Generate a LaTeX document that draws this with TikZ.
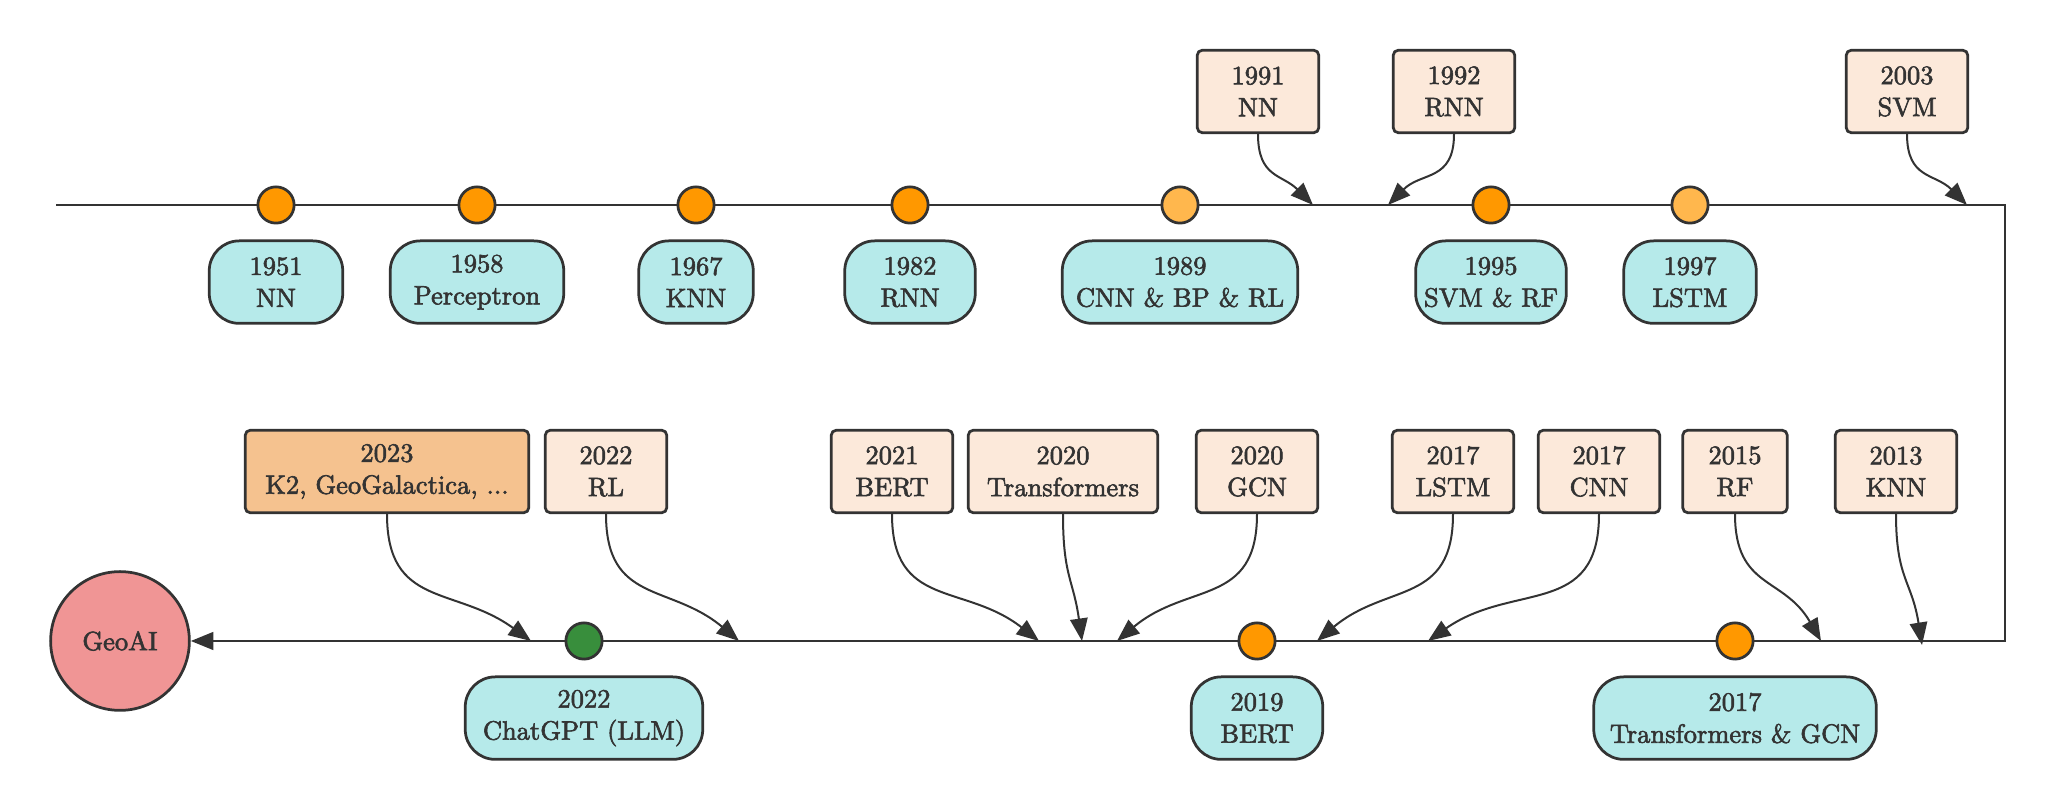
\documentclass[tikz,border=0pt]{standalone}
\usepackage{fontspec}
\usepackage{xcolor}
\usepackage{tikz}
\usetikzlibrary{arrows.meta, positioning, shapes.geometric}
\newfontfamily\tlface[FakeBold=2.2]{lmroman10-regular.otf}
\definecolor{linegray}{HTML}{333333}
\definecolor{eracyan}{HTML}{B6EAEA}
\definecolor{refpeach}{HTML}{FCE9DA}
\definecolor{newpeach}{HTML}{F5C28F}
\definecolor{dotorange}{HTML}{FF9800}
\definecolor{dotlight}{HTML}{FFB74D}
\definecolor{dotgreen}{HTML}{388E3C}
\definecolor{goalred}{HTML}{F09595}
\newcommand{\tlfont}{\tlface\fontsize{10.6}{12.8}\selectfont}
\tikzstyle{eranode}=[rectangle,draw=linegray,fill=eracyan,line width=1.1pt,
  rounded corners=12pt,minimum height=33pt,font=\tlfont,text=linegray,align=center]
\tikzstyle{refnode}=[rectangle,draw=linegray,fill=refpeach,line width=1.1pt,
  rounded corners=2pt,minimum height=33pt,minimum width=48.6pt,
  font=\tlfont,text=linegray,align=center]
\tikzstyle{dotnode}=[circle,draw=linegray,fill=dotorange,line width=1.1pt,
  minimum size=14.5pt,inner sep=0pt]
\tikzstyle{goalnode}=[circle,draw=linegray,fill=goalred,line width=1.1pt,
  minimum size=55.5pt,font=\tlfont,text=linegray]
\tikzstyle{axis}=[line width=1.1pt,color=linegray]
\tikzstyle{arr}=[-{Triangle[length=9pt,width=7pt]},line width=0.8pt,color=linegray,
  looseness=1.25]

\begin{document}
\begin{tikzpicture}[x=0.4pt,y=0.4pt,node distance=6pt]
  \useasboundingbox (0,0) rectangle (2055,-810);
  \node[goalnode] (geoai) at (120,-641) {GeoAI};
  \coordinate (tlstart) at (56,-205);
  \coordinate (tlturn) at (2005,-205);
  \coordinate (tlback) at (2005,-641);
  \draw[axis,-{Triangle[length=9pt,width=7pt]}] (tlstart) -- (tlturn) -- (tlback) -- (geoai);

  \node[dotnode] (d1951) at (276,-205) {};
  \node[dotnode] (d1958) at (477,-205) {};
  \node[dotnode] (d1967) at (696,-205) {};
  \node[dotnode] (d1982) at (910,-205) {};
  \node[dotnode,fill=dotlight] (d1989) at (1180,-205) {};
  \node[dotnode] (d1995) at (1491,-205) {};
  \node[dotnode,fill=dotlight] (d1997) at (1690,-205) {};
  \node[eranode,below=of d1951,minimum width=53.4pt] (e1951) {1951\\NN};
  \node[eranode,below=of d1958,minimum width=69.4pt] (e1958) {1958\\Perceptron};
  \node[eranode,below=of d1967,minimum width=45.8pt] (e1967) {1967\\KNN};
  \node[eranode,below=of d1982,minimum width=52.2pt] (e1982) {1982\\RNN};
  \node[eranode,below=of d1989,minimum width=94.2pt] (e1989) {1989\\CNN \& BP \& RL};
  \node[eranode,below=of d1995,minimum width=57.8pt] (e1995) {1995\\SVM \& RF};
  \node[eranode,below=of d1997,minimum width=53pt] (e1997) {1997\\LSTM};

  \node[refnode] (p1991) at (1258,-91.5) {1991\\NN};
  \node[refnode] (p1992) at (1454,-91.5) {1992\\RNN};
  \node[refnode] (p2003) at (1907,-91.5) {2003\\SVM};
  \coordinate (t1991) at (1313,-205);
  \coordinate (t1992) at (1388,-205);
  \coordinate (t2003) at (1967,-205);
  \draw[arr] (p1991) to[out=-90,in=135] (t1991);
  \draw[arr] (p1992) to[out=-90,in=45] (t1992);
  \draw[arr] (p2003) to[out=-90,in=135] (t2003);

  \node[dotnode,fill=dotgreen] (d2022) at (584,-641) {};
  \node[dotnode] (d2019) at (1257,-641) {};
  \node[dotnode] (d2017) at (1735,-641) {};
  \node[eranode,below=of d2022,minimum width=95pt] (e2022) {2022\\ChatGPT (LLM)};
  \node[eranode,below=of d2019,minimum width=52.6pt] (e2019) {2019\\BERT};
  \node[eranode,below=of d2017,minimum width=113pt] (e2017) {2017\\Transformers \& GCN};

  \node[refnode,fill=newpeach,minimum width=113.4pt] (p2023) at (387,-471.5) {2023\\K2, GeoGalactica, ...};
  \node[refnode] (p2022) at (606,-471.5) {2022\\RL};
  \node[refnode] (p2021) at (892,-471.5) {2021\\BERT};
  \node[refnode,minimum width=75.8pt] (p2020a) at (1063,-471.5) {2020\\Transformers};
  \node[refnode] (p2020b) at (1257,-471.5) {2020\\GCN};
  \node[refnode] (p2017a) at (1453,-471.5) {2017\\LSTM};
  \node[refnode] (p2017b) at (1599,-471.5) {2017\\CNN};
  \node[refnode,minimum width=41.8pt] (p2015) at (1735,-471.5) {2015\\RF};
  \node[refnode] (p2013) at (1896,-471.5) {2013\\KNN};
  \coordinate (t2023) at (531,-641);
  \coordinate (t2022) at (739,-641);
  \coordinate (t2021) at (1039,-641);
  \coordinate (t2020a) at (1082,-641);
  \coordinate (t2020b) at (1117,-641);
  \coordinate (t2017a) at (1317,-641);
  \coordinate (t2017b) at (1428,-641);
  \coordinate (t2015) at (1821,-641);
  \coordinate (t2013) at (1922,-645);
  \draw[arr] (p2023) to[out=-90,in=144] (t2023);
  \draw[arr] (p2022) to[out=-90,in=140] (t2022);
  \draw[arr] (p2021) to[out=-90,in=142] (t2021);
  \draw[arr] (p2020a) to[out=-90,in=98] (t2020a);
  \draw[arr] (p2020b) to[out=-90,in=40] (t2020b);
  \draw[arr] (p2017a) to[out=-90,in=40] (t2017a);
  \draw[arr] (p2017b) to[out=-90,in=35] (t2017b);
  \draw[arr] (p2015) to[out=-90,in=120] (t2015);
  \draw[arr] (p2013) to[out=-90,in=99] (t2013);
\end{tikzpicture}
\end{document}
